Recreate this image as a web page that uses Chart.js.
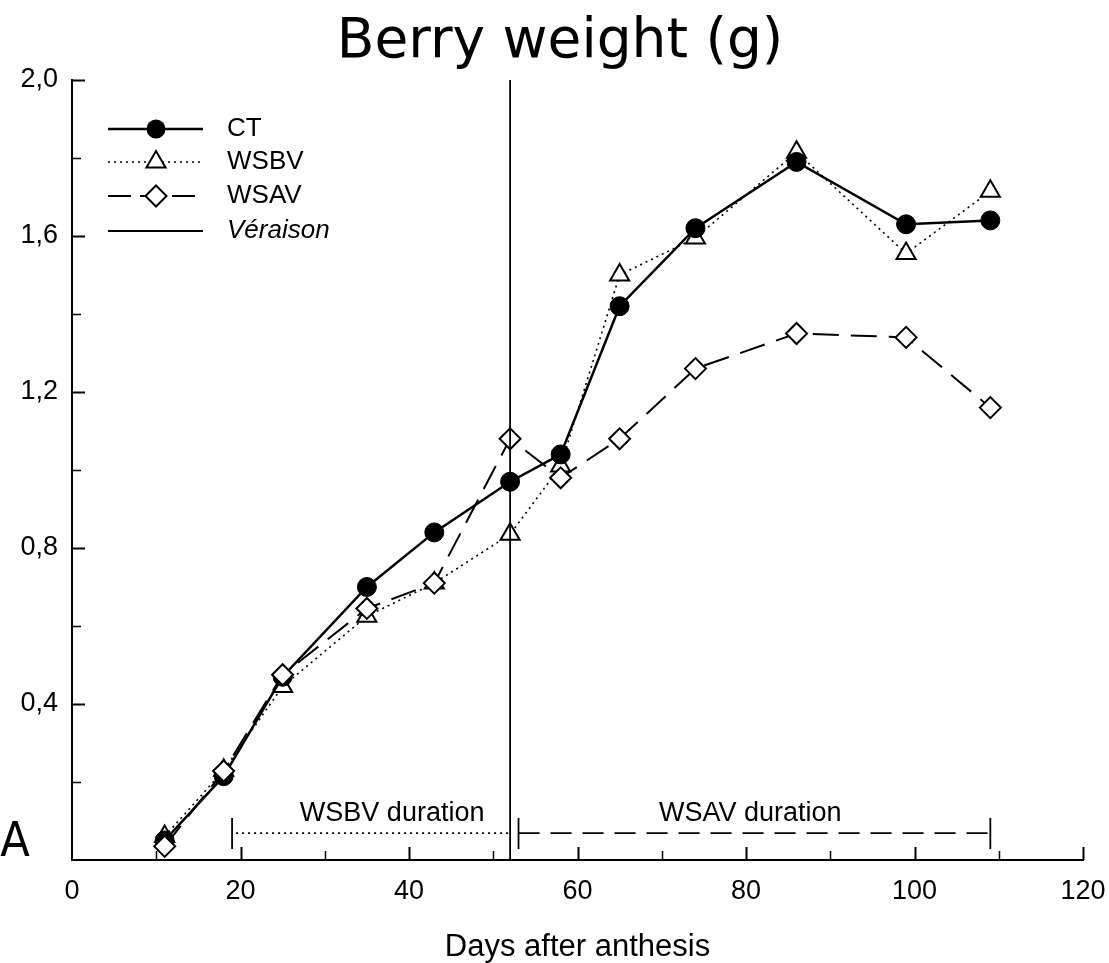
<!DOCTYPE html>
<html>
<head>
<meta charset="utf-8">
<title>Berry weight</title>
<script src="https://cdn.jsdelivr.net/npm/chart.js@4/dist/chart.umd.min.js"></script>
<style>
  html, body { margin: 0; padding: 0; background: #fff; }
  canvas { display: block; }
</style>
</head>
<body>
<canvas id="chart" width="1109" height="963"></canvas>
<script>
// Giorni dopo l'antesi (asse x)
const days = [11, 18, 25, 35, 43, 52, 58, 65, 74, 86, 99, 109];

// Peso bacca (g)
const ctValues   = [0.05, 0.215, 0.47, 0.70, 0.84, 0.97, 1.04, 1.42, 1.62, 1.79, 1.63, 1.64];
const wsbvValues = [0.06, 0.23, 0.445, 0.625, 0.71, 0.835, 1.01, 1.50, 1.595, 1.815, 1.555, 1.715];
const wsavValues = [0.035, 0.228, 0.475, 0.645, 0.71, 1.08, 0.98, 1.08, 1.26, 1.35, 1.34, 1.16];

// Etichette e annotazioni
const seriesNames = ['CT', 'WSBV', 'WSAV'];
const veraisonDay = 52;
const wsbvPeriod = [19, 52];
const wsavPeriod = [53, 109];
const xTickLabels = [0, 20, 40, 60, 80, 100, 120];
const yTickLabels = [0.4, 0.8, 1.2, 1.6, 2.0];

const SANS = "'Liberation Sans', Arial, sans-serif";
const TITLE_FONT = "'DejaVu Sans', sans-serif";

const toPoints = vals => vals.map((v, i) => ({ x: days[i], y: v }));

// Titolo (disegnato a mano per centrarlo come nell'originale)
const chartTitle = {
  id: 'chartTitle',
  afterDraw(chart) {
    const { ctx } = chart;
    ctx.save();
    ctx.fillStyle = '#000';
    ctx.font = '55px ' + TITLE_FONT;
    ctx.textAlign = 'center';
    ctx.textBaseline = 'alphabetic';
    ctx.fillText('Berry weight (g)', 560, 57);
    ctx.restore();
  }
};

// Tacche interne agli assi
const innerTicks = {
  id: 'innerTicks',
  afterDraw(chart) {
    const { ctx, chartArea, scales: { x, y } } = chart;
    ctx.save();
    ctx.strokeStyle = '#000';
    for (let d = 10; d <= 120; d += 10) {
      const px = Math.round(x.getPixelForValue(d)) + 0.5;
      const major = xTickLabels.includes(d);
      ctx.lineWidth = major ? 2 : 1.5;
      ctx.beginPath();
      ctx.moveTo(px, chartArea.bottom);
      ctx.lineTo(px, chartArea.bottom - (major ? 13 : 9));
      ctx.stroke();
    }
    for (let k = 1; k <= 10; k++) {
      const v = k * 0.2;
      const py = Math.round(y.getPixelForValue(v)) + 0.5;
      const major = k % 2 === 0;
      ctx.lineWidth = major ? 2 : 1.5;
      ctx.beginPath();
      ctx.moveTo(chartArea.left, py);
      ctx.lineTo(chartArea.left + (major ? 13 : 9), py);
      ctx.stroke();
    }
    ctx.restore();
  }
};

// Linea di invaiatura + durate degli stress + lettera del pannello
const annotations = {
  id: 'annotations',
  afterDatasetsDraw(chart) {
    const { ctx, chartArea, scales: { x, y } } = chart;
    ctx.save();
    ctx.strokeStyle = '#000';
    ctx.fillStyle = '#000';

    // Véraison
    const vx = x.getPixelForValue(veraisonDay);
    ctx.lineWidth = 1.8;
    ctx.beginPath();
    ctx.moveTo(vx, chartArea.top);
    ctx.lineTo(vx, chartArea.bottom);
    ctx.stroke();

    const barY = y.getPixelForValue(0.069);
    const barTop = y.getPixelForValue(0.108);
    const barBot = y.getPixelForValue(0.028);

    const bar = d => {
      const px = x.getPixelForValue(d);
      ctx.setLineDash([]);
      ctx.lineWidth = 1.8;
      ctx.beginPath();
      ctx.moveTo(px, barTop);
      ctx.lineTo(px, barBot);
      ctx.stroke();
    };

    // WSBV duration (punteggiata)
    bar(wsbvPeriod[0]);
    ctx.lineWidth = 1.6;
    ctx.setLineDash([2, 4]);
    ctx.beginPath();
    ctx.moveTo(x.getPixelForValue(wsbvPeriod[0]) + 4, barY);
    ctx.lineTo(x.getPixelForValue(wsbvPeriod[1]), barY);
    ctx.stroke();

    // WSAV duration (tratteggiata)
    bar(wsavPeriod[0]);
    bar(wsavPeriod[1]);
    ctx.lineWidth = 1.8;
    ctx.setLineDash([21, 11]);
    ctx.beginPath();
    ctx.moveTo(x.getPixelForValue(wsavPeriod[0]), barY);
    ctx.lineTo(x.getPixelForValue(wsavPeriod[1]), barY);
    ctx.stroke();
    ctx.setLineDash([]);

    ctx.font = '27px ' + SANS;
    ctx.textAlign = 'center';
    ctx.textBaseline = 'middle';
    ctx.fillText('WSBV duration', x.getPixelForValue(38), y.getPixelForValue(0.118));
    ctx.fillText('WSAV duration', x.getPixelForValue(80.5), y.getPixelForValue(0.118));

    // Lettera pannello
    ctx.font = "48px 'Liberation Sans Narrow', 'DejaVu Sans Condensed', sans-serif";
    ctx.textAlign = 'center';
    ctx.textBaseline = 'alphabetic';
    ctx.fillText('A', 15, 856);
    ctx.restore();
  }
};

// Legenda disegnata a mano (linea + marcatore)
const customLegend = {
  id: 'customLegend',
  afterDraw(chart) {
    const { ctx } = chart;
    const x0 = 108, x1 = 203, mx = 156, tx = 227;
    const rows = [129, 162, 196, 231];
    ctx.save();
    ctx.strokeStyle = '#000';
    ctx.fillStyle = '#000';

    const line = (yy, dash, w) => {
      ctx.setLineDash(dash);
      ctx.lineWidth = w;
      ctx.beginPath();
      ctx.moveTo(x0, yy);
      ctx.lineTo(x1, yy);
      ctx.stroke();
      ctx.setLineDash([]);
    };

    // CT
    line(rows[0], [], 2.5);
    ctx.beginPath();
    ctx.arc(mx, rows[0], 9.5, 0, Math.PI * 2);
    ctx.fill();

    // WSBV
    line(rows[1], [2, 4], 1.6);
    const r = 11;
    ctx.beginPath();
    ctx.moveTo(mx, rows[1] - r);
    ctx.lineTo(mx + r * Math.sin(2 * Math.PI / 3), rows[1] - r * Math.cos(2 * Math.PI / 3));
    ctx.lineTo(mx + r * Math.sin(4 * Math.PI / 3), rows[1] - r * Math.cos(4 * Math.PI / 3));
    ctx.closePath();
    ctx.fillStyle = '#fff';
    ctx.fill();
    ctx.lineWidth = 2;
    ctx.stroke();

    // WSAV
    line(rows[2], [23, 9], 2);
    const d = 10.5;
    ctx.beginPath();
    ctx.moveTo(mx - d, rows[2]);
    ctx.lineTo(mx, rows[2] - d);
    ctx.lineTo(mx + d, rows[2]);
    ctx.lineTo(mx, rows[2] + d);
    ctx.closePath();
    ctx.fill();
    ctx.stroke();

    // Véraison
    line(rows[3], [], 1.8);

    ctx.fillStyle = '#000';
    ctx.textAlign = 'left';
    ctx.textBaseline = 'middle';
    ctx.font = '26px ' + SANS;
    seriesNames.forEach((n, i) => ctx.fillText(n, tx, rows[i]));
    ctx.font = 'italic 26px ' + SANS;
    ctx.fillText('Véraison', tx, rows[3]);
    ctx.restore();
  }
};

new Chart(document.getElementById('chart'), {
  type: 'scatter',
  data: {
    datasets: [
      {
        label: seriesNames[2],
        data: toPoints(wsavValues),
        showLine: true,
        order: 0,
        borderColor: '#000',
        borderWidth: 2,
        borderDash: [26, 12],
        pointStyle: 'rectRot',
        pointRadius: 10.5,
        pointBackgroundColor: '#fff',
        pointBorderColor: '#000',
        pointBorderWidth: 2,
      },
      {
        label: seriesNames[0],
        data: toPoints(ctValues),
        showLine: true,
        order: 1,
        borderColor: '#000',
        borderWidth: 2.5,
        pointStyle: 'circle',
        pointRadius: 9.5,
        pointBackgroundColor: '#000',
        pointBorderColor: '#000',
        pointBorderWidth: 1,
      },
      {
        label: seriesNames[1],
        data: toPoints(wsbvValues),
        showLine: true,
        order: 2,
        borderColor: '#000',
        borderWidth: 1.6,
        borderDash: [2, 4],
        pointStyle: 'triangle',
        pointRadius: 11,
        pointBackgroundColor: '#fff',
        pointBorderColor: '#000',
        pointBorderWidth: 2,
      },
    ],
  },
  options: {
    responsive: false,
    animation: false,
    layout: { padding: { left: 0, right: 26, top: 80, bottom: 0 } },
    plugins: {
      legend: { display: false },
      tooltip: { enabled: false },
      title: { display: false },
    },
    scales: {
      x: {
        type: 'linear',
        min: 0,
        max: 120,
        grid: { display: false, drawTicks: false },
        border: { display: true, color: '#000', width: 2 },
        ticks: {
          stepSize: 10,
          autoSkip: false,
          maxRotation: 0,
          color: '#000',
          padding: 15,
          font: { family: SANS, size: 27 },
          callback: v => (xTickLabels.includes(v) ? String(v) : ''),
        },
        title: {
          display: true,
          text: 'Days after anthesis',
          color: '#000',
          font: { family: SANS, size: 31 },
          padding: { top: 0, bottom: -3 },
        },
        afterFit: s => {
          s.height = 103;
          s.paddingLeft = 0;
          s.paddingRight = 0;
        },
      },
      y: {
        type: 'linear',
        min: 0,
        max: 2,
        grid: { display: false, drawTicks: false },
        border: { display: true, color: '#000', width: 2 },
        ticks: {
          stepSize: 0.2,
          autoSkip: false,
          color: '#000',
          padding: 14,
          font: { family: SANS, size: 27 },
          callback: v => {
            const r = Math.round(v * 10) / 10;
            return yTickLabels.some(t => Math.abs(t - r) < 1e-6) ? r.toFixed(1).replace('.', ',') : '';
          },
        },
        afterFit: s => {
          s.width = 72;
          s.paddingTop = 0;
          s.paddingBottom = 0;
        },
      },
    },
  },
  plugins: [chartTitle, innerTicks, annotations, customLegend],
});
</script>
</body>
</html>
